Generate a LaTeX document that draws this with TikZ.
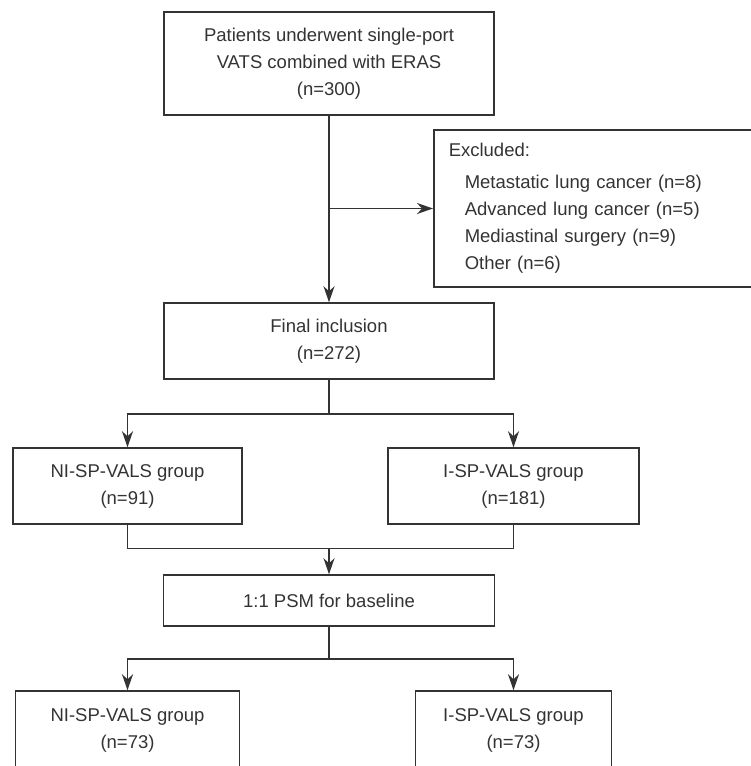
\documentclass[tikz,border=0pt]{standalone}
\usepackage{fontspec}
\setmainfont{Liberation Sans}
\usetikzlibrary{arrows.meta,calc,positioning}
\definecolor{ink}{HTML}{333333}
\tikzstyle{link} = [draw=ink, line width=1.5pt]
\tikzstyle{arrow} = [link, -{Stealth[length=16pt,width=11pt,inset=5pt]}]
\tikzstyle{box} = [rectangle, draw=ink, line width=1.5pt, align=center,
  text=ink, inner sep=0pt, font={\fontsize{18.5}{27}\selectfont}]

\begin{document}
\begin{tikzpicture}[
    x=1pt, y=-1pt
  ]
    \useasboundingbox (0,0) rectangle (751,766);
    \node [box, minimum width=330pt, minimum height=103pt] at (329,63.5) (start)
      {Patients underwent single-port\\
        VATS combined with ERAS\\
        (n=300)};
    \node [box, anchor=west, align=left, text width=300pt, inner xsep=15pt,
      minimum height=157pt] at (433,208.5) (excl)
      {Excluded:\\[5pt]
        \hspace*{16pt}Metastatic lung cancer (n=8)\\
        \hspace*{16pt}Advanced lung cancer (n=5)\\
        \hspace*{16pt}Mediastinal surgery (n=9)\\
        \hspace*{16pt}Other (n=6)};
    \node [box, minimum width=330pt, minimum height=76pt] at (329,341) (final)
      {Final inclusion\\
        (n=272)};
    \node [box, minimum width=229pt, minimum height=76pt] at (127.5,486) (nigroup)
      {NI-SP-VALS group\\
        (n=91)};
    \node [box, minimum width=251pt, minimum height=76pt] at (513.5,486) (igroup)
      {I-SP-VALS group\\
        (n=181)};
    \node [box, minimum width=331pt, minimum height=51pt] at (329,600.5) (psm)
      {1:1 PSM for baseline};
    \node [box, minimum width=224pt, minimum height=78pt] at (127.5,730) (nimatch)
      {NI-SP-VALS group\\
        (n=73)};
    \node [box, minimum width=196pt, minimum height=78pt] at (513.5,730) (imatch)
      {I-SP-VALS group\\
        (n=73)};
    \coordinate (split) at (start.south |- excl.west);
    \coordinate (fork) at ($(final.south)+(0,34)$);
    \coordinate (join) at ($(psm.north)-(0,26)$);
    \coordinate (fork2) at ($(psm.south)+(0,32)$);
    \path [arrow] (start) -- (final);
    \path [arrow] (split) -- (excl.west);
    \path [link] (final) -- (fork);
    \path [arrow] (fork) -| (nigroup);
    \path [arrow] (fork) -| (igroup);
    \path [link] (nigroup) |- (join) -| (igroup);
    \path [arrow] (join) -- (psm);
    \path [link] (psm) -- (fork2);
    \path [arrow] (fork2) -| (nimatch);
    \path [arrow] (fork2) -| (imatch);
  \end{tikzpicture}
\end{document}
